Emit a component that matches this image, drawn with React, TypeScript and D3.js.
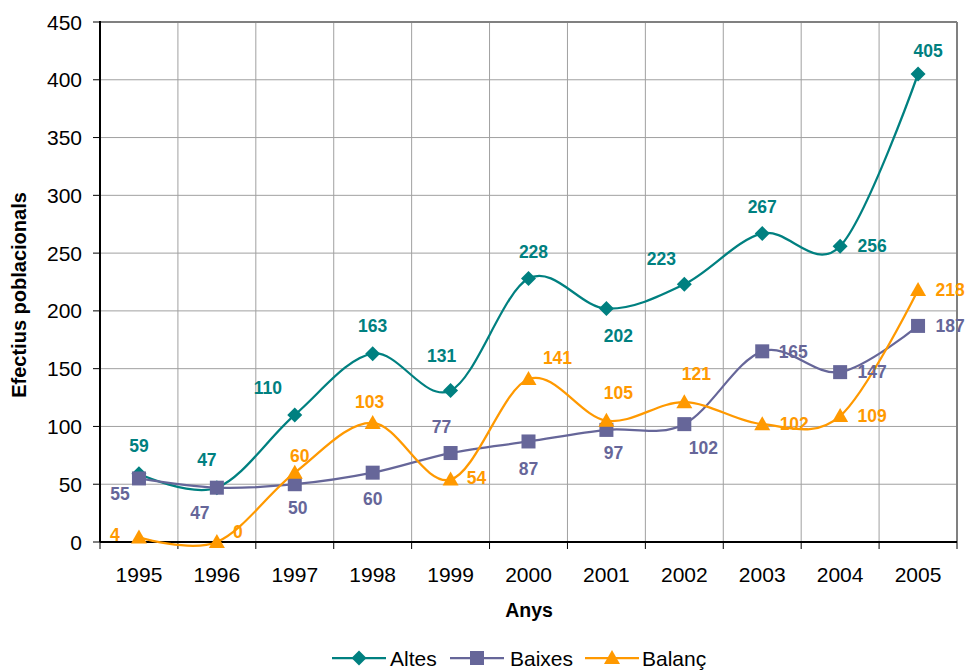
import * as d3 from 'd3';

const years = ['1995', '1996', '1997', '1998', '1999', '2000', '2001', '2002', '2003', '2004', '2005'];
const altes = [59, 47, 110, 163, 131, 228, 202, 223, 267, 256, 405];
const baixes = [55, 47, 50, 60, 77, 87, 97, 102, 165, 147, 187];
const balanc = [4, 0, 60, 103, 54, 141, 105, 121, 102, 109, 218];
const yTicks = [0, 50, 100, 150, 200, 250, 300, 350, 400, 450];

// label offsets (dx, dy) from each point, as placed in the original
const altesLbl = [[0, -28], [-10, -28], [-27, -27], [0, -28], [-9, -35], [5, -27], [12, 27], [-23, -26], [0, -27], [32, 0], [10, -23]];
const baixesLbl = [[-19, 15], [-17, 25], [3, 23], [0, 26], [-9, -26], [0, 27], [7, 23], [19, 24], [31, 0], [32, 0], [32, 0]];
const balancLbl = [[-24, -3], [21, -10], [5, -17], [-3, -21], [26, -2], [29, -21], [12, -28], [12, -28], [32, 0], [32, 0], [32, 0]];

const W = 967, H = 671;
const left = 100, right = 957, top = 22, bottom = 542;
const font = '"Liberation Sans", Arial, sans-serif';

const series = [
  { name: 'Altes', values: altes, labels: altesLbl, color: '#008080', shape: 'diamond' },
  { name: 'Baixes', values: baixes, labels: baixesLbl, color: '#666699', shape: 'square' },
  { name: 'Balanç', values: balanc, labels: balancLbl, color: '#FF9900', shape: 'triangle' },
];

function Marker({ shape, x, y, color }: { shape: string; x: number; y: number; color: string }) {
  if (shape === 'diamond') {
    const s = 7.5;
    return <path d={`M${x},${y - s}L${x + s},${y}L${x},${y + s}L${x - s},${y}Z`} fill={color} />;
  }
  if (shape === 'square') {
    return <rect x={x - 7} y={y - 7} width={14} height={14} fill={color} />;
  }
  return <path d={`M${x},${y - 8}L${x + 8},${y + 6}L${x - 8},${y + 6}Z`} fill={color} />;
}

export default function App() {
  const x = d3.scaleBand().domain(years).range([left, right]).padding(0);
  const y = d3.scaleLinear().domain([0, 450]).range([bottom, top]);
  const cx = (yr: string) => (x(yr) as number) + x.bandwidth() / 2;

  const line = d3.line<number>()
    .x((_, i) => cx(years[i]))
    .y(d => y(d))
    .curve(d3.curveCardinal.tension(0));

  const edges = years.map(yr => x(yr) as number).concat([right]);

  const legendItems = [
    { s: series[0], lx: 332, tx: 390 },
    { s: series[1], lx: 450, tx: 510 },
    { s: series[2], lx: 585, tx: 642 },
  ];

  return (
    <svg width={W} height={H} style={{ position: 'absolute', left: 0, top: 0, background: '#fff' }} fontFamily={font}>
      {/* grid */}
      {yTicks.map(t => (
        <line key={'h' + t} x1={left} x2={right} y1={y(t)} y2={y(t)} stroke="#a0a0a0" strokeWidth={1} />
      ))}
      {edges.slice(1, -1).map((e, i) => (
        <line key={'v' + i} x1={e} x2={e} y1={top} y2={bottom} stroke="#a0a0a0" strokeWidth={1} />
      ))}
      <line x1={left} x2={right} y1={top} y2={top} stroke="#808080" strokeWidth={2} />
      <line x1={right} x2={right} y1={top} y2={bottom} stroke="#808080" strokeWidth={2} />

      {/* axes */}
      <line x1={left} x2={left} y1={top - 1} y2={bottom} stroke="#000" strokeWidth={2} />
      <line x1={left} x2={right} y1={bottom} y2={bottom} stroke="#000" strokeWidth={2} />
      {yTicks.map(t => (
        <g key={'yt' + t}>
          <line x1={left - 7} x2={left} y1={y(t)} y2={y(t)} stroke="#000" strokeWidth={1} />
          <text x={82} y={y(t)} dy="0.36em" textAnchor="end" fontSize={21} fill="#000">{t}</text>
        </g>
      ))}
      {edges.map((e, i) => (
        <line key={'xt' + i} x1={e} x2={e} y1={bottom} y2={bottom + 7} stroke="#000" strokeWidth={1} />
      ))}
      {years.map(yr => (
        <text key={'xl' + yr} x={cx(yr)} y={582} textAnchor="middle" fontSize={21} fill="#000">{yr}</text>
      ))}

      <text x={529} y={617} textAnchor="middle" fontSize={19.5} fontWeight="bold">Anys</text>
      <text transform="translate(26,295) rotate(-90)" textAnchor="middle" fontSize={20} fontWeight="bold">Efectius poblacionals</text>

      {/* series */}
      {series.map(s => (
        <g key={s.name}>
          <path d={line(s.values) || ''} fill="none" stroke={s.color} strokeWidth={2.25} />
          {s.values.map((v, i) => (
            <Marker key={i} shape={s.shape} x={cx(years[i])} y={y(v)} color={s.color} />
          ))}
        </g>
      ))}
      {series.map(s => (
        <g key={s.name + 'l'}>
          {s.values.map((v, i) => (
            <text key={i} x={cx(years[i]) + s.labels[i][0]} y={y(v) + s.labels[i][1]} dy="0.36em"
              textAnchor="middle" fontSize={17.5} fontWeight="bold" fill={s.color}>{v}</text>
          ))}
        </g>
      ))}

      {/* legend */}
      {legendItems.map(({ s, lx, tx }) => (
        <g key={'lg' + s.name}>
          <line x1={lx} x2={lx + 54} y1={658} y2={658} stroke={s.color} strokeWidth={2.25} />
          <Marker shape={s.shape} x={lx + 27} y={658} color={s.color} />
          <text x={tx} y={658} dy="0.36em" fontSize={21} fill="#000">{s.name}</text>
        </g>
      ))}
    </svg>
  );
}
